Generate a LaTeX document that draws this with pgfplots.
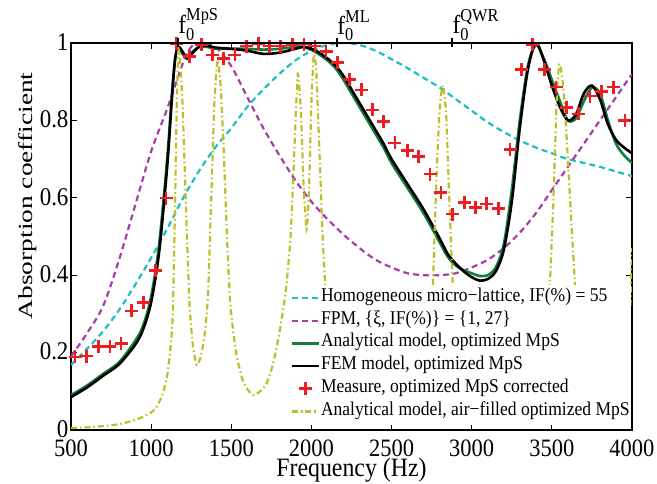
\documentclass[border=0pt]{standalone}
\usepackage{amsmath}
\usepackage{fontspec}
\setmainfont{Liberation Serif}[FakeStretch=0.9]
\newfontfamily\ylabfont{Liberation Serif}[FakeStretch=1.37]
\usepackage{pgfplots}
\pgfplotsset{compat=1.18}

\definecolor{hmcyan}{RGB}{30,190,195}
\definecolor{fpmmag}{RGB}{170,60,170}
\definecolor{anagreen}{RGB}{20,125,60}
\definecolor{measred}{RGB}{235,30,35}
\definecolor{airolive}{RGB}{190,190,40}

\begin{document}
\begin{tikzpicture}
\begin{axis}[
    scale only axis, width=561pt, height=387pt,
    xmin=500, xmax=4000, ymin=0, ymax=1,
    xtick={500,1000,...,4000}, ytick={0,0.2,...,1},
    tick align=inside, major tick length=6pt, minor tick num=0,
    axis line style={line width=1.1pt}, tick style={line width=1pt, black},
    /pgf/number format/assume math mode=true,
    /pgf/number format/1000 sep={},
    xticklabel style={font=\fontsize{25}{25}\selectfont, inner sep=1pt, text depth=0pt, yshift=-9pt},
    yticklabel style={font=\fontsize{25.5}{25.5}\selectfont, xshift=1pt, yshift=1pt},
    xlabel={Frequency (Hz)},
    xlabel style={font=\fontsize{26.5}{26.5}\selectfont, inner sep=0pt, text height=15pt, text depth=4pt,
        at={(axis description cs:0.5,-0.121)}, anchor=base},
    ylabel={Absorption coefficient},
    ylabel style={font=\ylabfont\fontsize{20}{20}\selectfont, inner sep=1pt, at={(axis description cs:-0.0766,0.605)}, anchor=center},
    legend image code/.code={\draw[mark repeat=2,mark phase=2,#1] plot coordinates {(0pt,0pt)(13.5pt,0pt)(27pt,0pt)};},
    legend cell align=left,
    legend style={at={(axis description cs:0.998,0.013)}, anchor=south east, draw=none, fill=white,
        font=\fontsize{19.5}{19.5}\selectfont, inner xsep=0pt, inner ysep=2pt, row sep=0pt,
        nodes={inner xsep=1pt, inner ysep=1.5pt, text height=13.5pt, text depth=6.2pt}},
]
% homogeneous micro-lattice
\addplot[hmcyan, line width=2.2pt, dash pattern=on 6pt off 4pt, smooth] coordinates {
(500,0.168)(600,0.21)(700,0.255)(800,0.31)(900,0.375)(1000,0.445)(1100,0.52)(1200,0.60)
(1300,0.67)(1400,0.73)(1500,0.78)(1600,0.835)(1700,0.88)(1800,0.92)(1900,0.955)(2000,0.98)
(2100,0.995)(2200,1.0)(2300,0.995)(2400,0.98)(2500,0.958)(2600,0.935)(2700,0.91)(2800,0.885)
(2900,0.855)(3000,0.825)(3100,0.795)(3200,0.77)(3300,0.748)(3400,0.73)(3500,0.715)(3600,0.70)
(3700,0.69)(3800,0.68)(3900,0.668)(4000,0.656)};
\addlegendentry{Homogeneous micro\textminus lattice, IF(\%) = 55}
% FPM
\addplot[fpmmag, line width=2.2pt, dash pattern=on 6pt off 4pt, smooth] coordinates {
(500,0.19)(600,0.25)(700,0.32)(800,0.44)(900,0.58)(1000,0.72)(1100,0.83)(1200,0.95)(1250,0.99)
(1300,1.0)(1400,0.99)(1500,0.94)(1600,0.86)(1700,0.78)(1800,0.71)(1900,0.645)(2000,0.59)
(2100,0.545)(2200,0.505)(2300,0.47)(2400,0.44)(2500,0.42)(2600,0.405)(2700,0.40)(2800,0.40)
(2900,0.405)(3000,0.42)(3100,0.44)(3200,0.47)(3300,0.51)(3400,0.56)(3500,0.62)(3600,0.68)
(3700,0.74)(3800,0.80)(3900,0.86)(4000,0.92)};
\addlegendentry{FPM, \{ξ, IF(\%)\} = \{1, 27\}}
% analytical model
\addplot[anagreen, line width=2.6pt, smooth] coordinates {
(500,0.09)(600,0.115)(700,0.145)(800,0.175)(900,0.23)(950,0.27)(1000,0.345)(1050,0.48)
(1100,0.70)(1130,0.87)(1150,0.96)(1170,0.985)(1200,0.97)(1225,0.96)(1260,0.978)(1300,0.99)
(1350,0.99)(1400,0.985)(1500,0.985)(1600,0.985)(1700,0.983)(1800,0.985)(1900,0.99)(1950,0.99)
(2000,0.982)(2050,0.97)(2100,0.955)(2150,0.935)(2200,0.905)(2250,0.87)(2300,0.835)(2350,0.80)
(2400,0.765)(2450,0.73)(2500,0.69)(2600,0.625)(2700,0.56)(2800,0.485)(2850,0.448)(2900,0.425)
(2950,0.413)(3000,0.405)(3050,0.398)(3100,0.40)
(3150,0.42)(3200,0.48)(3250,0.62)(3300,0.80)(3350,0.94)(3400,0.995)(3450,0.96)(3500,0.905)
(3550,0.85)(3600,0.80)(3650,0.805)(3700,0.85)(3750,0.885)(3800,0.87)(3850,0.80)(3900,0.74)
(3950,0.71)(4000,0.69)};
\addlegendentry{Analytical model, optimized MpS}
% FEM model
\addplot[black, line width=2.6pt, smooth] coordinates {
(500,0.085)(600,0.11)(700,0.14)(800,0.17)(900,0.22)(950,0.26)(1000,0.33)(1050,0.46)
(1100,0.68)(1130,0.86)(1150,0.96)(1170,0.99)(1200,0.975)(1225,0.96)(1260,0.975)(1300,0.99)
(1350,0.993)(1400,0.988)(1500,0.985)(1600,0.98)(1700,0.972)(1800,0.975)(1900,0.985)(1950,0.99)
(2000,0.985)(2050,0.975)(2100,0.96)(2150,0.942)(2200,0.915)(2250,0.88)(2300,0.845)(2350,0.81)
(2400,0.775)(2450,0.74)(2500,0.70)(2600,0.635)(2700,0.57)(2800,0.495)(2850,0.455)(2900,0.43)
(2950,0.41)(3000,0.395)(3050,0.386)(3100,0.39)
(3150,0.41)(3200,0.465)(3250,0.59)(3300,0.78)(3350,0.93)(3400,1.0)(3450,0.955)(3500,0.89)
(3550,0.835)(3600,0.80)(3650,0.815)(3700,0.87)(3750,0.89)(3800,0.855)(3850,0.79)(3900,0.75)
(3950,0.73)(4000,0.715)};
\addlegendentry{FEM model, optimized MpS}
% measurements
\addplot[only marks, mark=+, mark size=6.5pt, measred, line width=2.6pt] coordinates {
(525,0.189)(598,0.191)(670,0.215)(743,0.215)(812,0.224)(878,0.308)(951,0.329)(1028,0.412)
(1093,0.599)(1159,0.999)(1238,0.965)(1315,0.995)(1384,0.969)(1450,0.96)(1523,0.969)(1596,0.992)
(1669,0.999)(1737,0.992)(1808,0.992)(1883,0.995)(1954,0.997)(2022,0.992)(2091,0.978)(2161,0.949)
(2236,0.906)(2313,0.879)(2380,0.827)(2448,0.797)(2521,0.742)(2598,0.722)(2667,0.706)(2740,0.661)
(2808,0.614)(2879,0.558)(2954,0.588)(3024,0.575)(3093,0.584)(3166,0.573)(3239,0.725)(3312,0.932)
(3378,0.995)(3453,0.932)(3526,0.886)(3592,0.834)(3665,0.817)(3738,0.863)(3810,0.874)(3883,0.886)
(3956,0.80)};
\addlegendentry{Measure, optimized MpS corrected}
% air-filled
\addplot[airolive, line width=2.2pt, dash pattern=on 6pt off 3pt on 1.5pt off 3pt, smooth, tension=0.35] coordinates {
(500,0.005)(600,0.007)(700,0.01)(800,0.015)(850,0.02)(900,0.026)(950,0.034)(1000,0.045)
(1030,0.057)(1070,0.09)(1100,0.14)(1120,0.21)(1135,0.30)(1150,0.60)(1160,0.85)(1170,0.98)
(1180,0.96)(1195,0.85)(1210,0.67)(1225,0.48)(1240,0.32)(1260,0.22)(1284,0.168)(1310,0.19)
(1335,0.25)(1355,0.35)(1375,0.60)(1395,0.85)(1415,0.956)(1435,0.88)(1455,0.70)(1475,0.48)
(1495,0.32)(1530,0.20)(1570,0.13)(1610,0.10)(1640,0.09)(1680,0.10)(1720,0.12)(1760,0.17)
(1800,0.25)(1840,0.36)(1870,0.50)(1895,0.74)(1915,0.92)(1935,0.82)(1950,0.64)(1970,0.52)
(1985,0.62)(2000,0.85)(2015,0.97)(2030,0.93)(2050,0.72)(2070,0.50)(2090,0.35)(2120,0.22)
(2200,0.12)(2400,0.07)(2600,0.09)(2700,0.17)(2740,0.26)(2758,0.38)(2780,0.65)(2800,0.83)
(2820,0.89)(2840,0.82)(2860,0.60)(2881,0.38)(2900,0.25)(2950,0.15)(3100,0.07)(3300,0.08)
(3420,0.16)(3470,0.30)(3488,0.38)(3510,0.60)(3530,0.85)(3545,0.945)(3562,0.92)(3580,0.84)
(3600,0.70)(3620,0.55)(3644,0.38)(3670,0.25)(3720,0.15)(3800,0.08)(3900,0.09)(3950,0.13)
(3969,0.19)(3990,0.33)(4000,0.47)};
\addlegendentry{Analytical model, air\textminus filled optimized MpS}
\end{axis}
% resonance frequencies on the upper axis
\begin{axis}[
    scale only axis, width=561pt, height=387pt,
    xmin=500, xmax=4000, ymin=0, ymax=1,
    axis x line*=top, axis y line=none,
    x axis line style={-, line width=1.1pt},
    xtick={1167,2159,2877},
    xticklabels={$\text{f}_{\text{0}}^{\text{MpS}}$, $\text{f}_{\text{0}}^{\text{ML}}$, $\text{f}_{\text{0}}^{\text{QWR}}$},
    tick align=center, major tick length=9pt,
    xtick style={line width=1.8pt, black},
    xticklabel style={font=\fontsize{26}{26}\selectfont, anchor=south west, xshift=-3pt, yshift=-6pt},
]
\end{axis}
\pgfresetboundingbox
\path[use as bounding box] (-71pt,-53pt) rectangle (586pt,430pt);
\end{tikzpicture}
\end{document}
